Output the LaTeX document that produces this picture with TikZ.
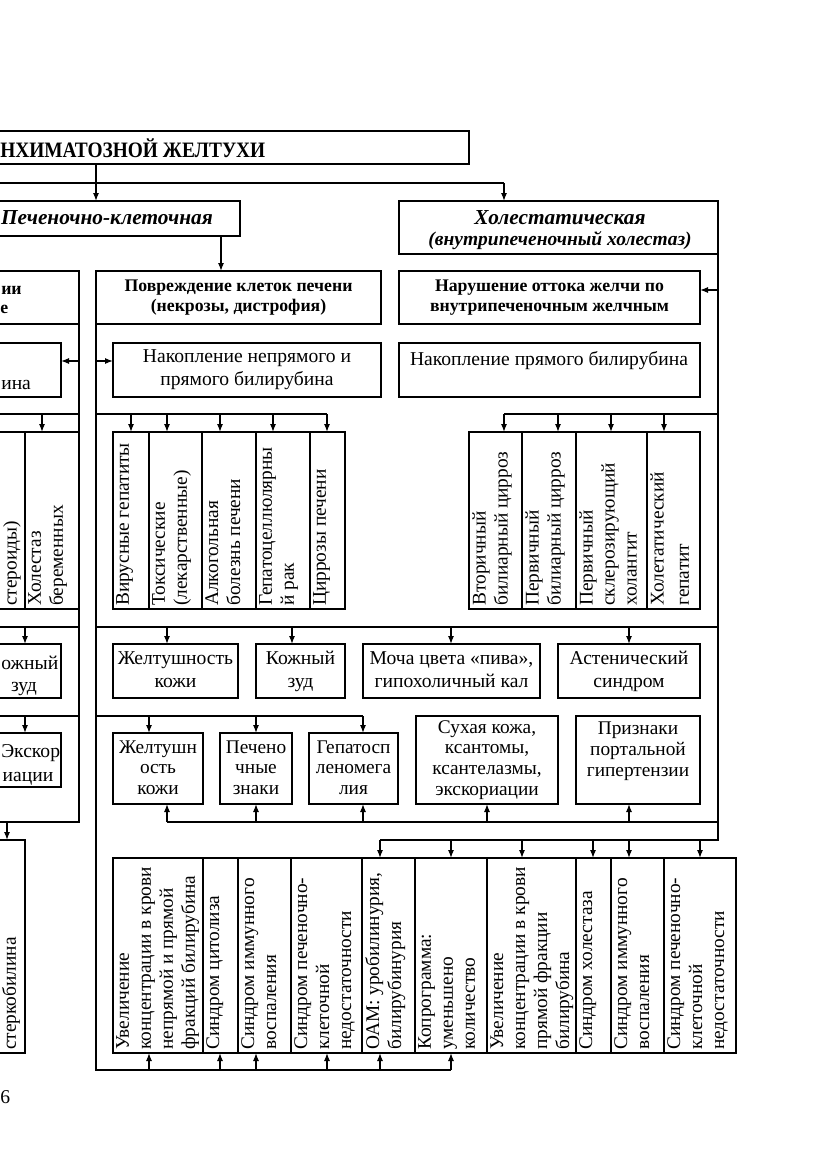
\documentclass[tikz,border=0pt]{standalone}
\usepackage{fontspec}
\usepackage{graphicx}
\setmainfont{Liberation Serif}
\usetikzlibrary{arrows.meta}
\newcommand\tst{\rule[-0.1\baselineskip]{0pt}{0.9\baselineskip}}
\tikzset{
  box/.style={draw, line width=1.1pt, inner sep=0pt, outer sep=0pt, anchor=north west},
  ln/.style={line width=1.1pt},
  arr/.style={line width=1.1pt, -{Latex[length=6pt,width=4.6pt]}},
  txt/.style={inner sep=0pt, align=center, font=\fontsize{14.7}{17.3}\selectfont,
    execute at begin node=\tst, execute at end node=\tst},
  txtm/.style={inner sep=0pt, align=center, font=\fontsize{14.5}{15.6}\selectfont,
    execute at begin node=\tst, execute at end node=\tst},
  bld/.style={inner sep=0pt, align=center, font=\fontsize{13.3}{15.2}\selectfont\bfseries,
    execute at begin node=\tst, execute at end node=\tst},
  plain/.style={execute at begin node={}, execute at end node={}},
  hd/.style={inner sep=0pt, align=center, font=\fontsize{16}{18}\selectfont\bfseries\itshape},
  subhd/.style={inner sep=0pt, align=center, font=\fontsize{14.6}{16}\selectfont\bfseries\itshape},
  ttl/.style={inner sep=0pt, font=\fontsize{16.5}{18}\selectfont\bfseries},
  vtxt/.style={rotate=90, anchor=north west, align=left, inner sep=0pt, font=\fontsize{14.5}{16.5}\selectfont},
}
\newcommand\mkbox[7][]{\node[box, minimum width={(#5-(#3))*0.75pt}, minimum height={(#6-(#4))*0.75pt}, #1] (#2) at (#3,#4) {#7};}
\newcommand\vt[3][]{\node[vtxt,#1] (#2t) at ([xshift=2.3pt,yshift=2.3pt]#2.south west) {#3};}
\begin{document}
\begin{tikzpicture}[x=0.75pt,y=-0.75pt]
\useasboundingbox (0,0) rectangle (831,1174);
\fill[white] (0,0) rectangle (831,1174);
% helper coordinates
\foreach \x in {7,25,42,79,96,131,149,167,220,221,256,273,292,327,363,380,451,487,504,522,558,593,611,629,664,700,718} \coordinate (X\x) at (\x,0);
\coordinate (Lx) at (-12,0);
\foreach \y in {183,290,361,414,627,716,822,840,1070} \coordinate (Y\y) at (0,\y);

% ---- top level
\mkbox{title}{-12}{131}{469}{164}{}
\node[ttl, anchor=west] (titletext) at (0,148) {\scalebox{0.88}[1]{НХИМАТОЗНОЙ ЖЕЛТУХИ}};
\mkbox{pk}{-12}{201}{240}{236}{}
\node[hd, anchor=east] (pktext) at (213,218) {Печеночно-клеточная};
\mkbox{xol}{399}{201}{718}{254}{}
\node[hd] (xoltext) at (560,218) {Холестатическая};
\node[subhd] (xolsub) at (560,241) {(внутрипеченочный холестаз)};

% ---- second level
\mkbox{ltop}{-12}{271}{79}{324}{}
\node[bld, plain, anchor=west] (ltop1) at (1,287) {ии};
\node[bld, plain, anchor=west] (ltop2) at (0,306) {е};
\mkbox[bld]{povr}{96}{271}{381}{324}{Повреждение клеток печени\\(некрозы, дистрофия)}
\mkbox[bld]{nar}{399}{271}{700}{324}{Нарушение оттока желчи по\\внутрипеченочным желчным}

% ---- accumulation
\mkbox{lnak}{-12}{343}{61}{397}{}
\node[txt, plain, anchor=west] (lnakt) at (1,381) {ина};
\mkbox[txt]{nak1}{113}{343}{381}{397}{Накопление непрямого и\\прямого билирубина}
\mkbox{nak2}{399}{343}{700}{397}{}
\node[txt, plain] (nak2t) at (549,358) {Накопление прямого билирубина};

% ---- cause columns
\mkbox{lcA}{-12}{432}{25}{609}{}
\node[vtxt, anchor=west] (lcAt) at (12,606) {стероиды)};
\mkbox{lcB}{25}{432}{79}{609}{}
\vt{lcB}{Холестаз\\беременных}
\mkbox{m1}{113}{432}{149}{609}{}
\mkbox{m2}{149}{432}{202}{609}{}
\mkbox{m3}{202}{432}{256}{609}{}
\mkbox{m4}{256}{432}{310}{609}{}
\mkbox{m5}{310}{432}{345}{609}{}
\vt{m1}{Вирусные гепатиты}
\vt{m2}{Токсические\\(лекарственные)}
\vt{m3}{Алкогольная\\болезнь печени}
\vt{m4}{Гепатоцеллюлярны\\й рак}
\vt{m5}{Циррозы печени}
\mkbox{r1}{469}{432}{522}{609}{}
\mkbox{r2}{522}{432}{576}{609}{}
\mkbox{r3}{576}{432}{647}{609}{}
\mkbox{r4}{647}{432}{700}{609}{}
\vt{r1}{Вторичный\\билиарный цирроз}
\vt{r2}{Первичный\\билиарный цирроз}
\vt{r3}{Первичный\\склерозирующий\\холангит}
\vt[font=\fontsize{14.5}{19}\selectfont]{r4}{Холетатический\\гепатит}

% ---- symptoms row 1
\mkbox{lzud}{-12}{644}{61}{698}{}
\node[txt, plain, anchor=west] (lzud1) at (1,661) {ожный};
\node[txt, plain] (lzud2) at (24,684) {зуд};
\mkbox[txt]{zhk}{113}{644}{238}{698}{Желтушность\\кожи}
\mkbox[txt]{kzud}{256}{644}{345}{698}{Кожный\\зуд}
\mkbox[txt]{mocha}{363}{644}{540}{698}{Моча цвета «пива»,\\гипохоличный кал}
\mkbox[txt]{ast}{558}{644}{700}{698}{Астенический\\синдром}

% ---- symptoms row 2
\mkbox{leks}{-12}{733}{61}{787}{}
\node[txt, plain, anchor=west] (leks1) at (1,750) {Экскор};
\node[txt, plain] (leks2) at (28,774) {иации};
\mkbox[txtm]{zh2}{113}{733}{203}{804}{Желтушн\\ость\\кожи}
\mkbox[txtm]{pech}{220}{733}{292}{804}{Печено\\чные\\знаки}
\mkbox[txtm]{gep}{309}{733}{398}{804}{Гепатосп\\леномега\\лия}
\mkbox[txtm]{such}{416}{716}{558}{804}{Сухая кожа,\\ксантомы,\\ксантелазмы,\\экскориации}
\mkbox{priz}{576}{716}{700}{804}{}
\node[txtm, plain] (prizt) at (638,751) {Признаки\\портальной\\гипертензии};

% ---- left bottom
\mkbox{lst}{-12}{840}{25}{1053}{}
\node[vtxt, anchor=west] (lstt) at (11,1050) {стеркобилина};

% ---- lab columns
\mkbox{b1}{113}{858}{203}{1053}{}
\mkbox{b2}{203}{858}{238}{1053}{}
\mkbox{b3}{238}{858}{291}{1053}{}
\mkbox{b4}{291}{858}{362}{1053}{}
\mkbox{b5}{362}{858}{415}{1053}{}
\mkbox{b6}{415}{858}{487}{1053}{}
\mkbox{b7}{487}{858}{576}{1053}{}
\mkbox{b8}{576}{858}{611}{1053}{}
\mkbox{b9}{611}{858}{664}{1053}{}
\mkbox{b10}{664}{858}{736}{1053}{}
\vt{b1}{Увеличение\\концентрации в крови\\непрямой и прямой\\фракций билирубина}
\vt{b2}{Синдром цитолиза}
\vt{b3}{Синдром иммунного\\воспаления}
\vt{b4}{Синдром печеночно-\\клеточной\\недостаточности}
\vt{b5}{ОАМ: уробилинурия,\\билирубинурия}
\vt{b6}{Копрограмма:\\уменьшено\\количество}
\vt{b7}{Увеличение\\концентрации в крови\\прямой фракции\\билирубина}
\vt{b8}{Синдром холестаза}
\vt{b9}{Синдром иммунного\\воспаления}
\vt{b10}{Синдром печеночно-\\клеточной\\недостаточности}

\node[txt, plain, anchor=west] (page) at (0,1095) {6};

% ================= connectors
\draw[ln] (Y183 -| Lx) -- (Y183 -| X504);
\draw[arr] (Y183 -| X504) -- (xol.north -| X504);
\draw[arr] (title.south -| X96) -- (pk.north -| X96);
\draw[arr] (pk.south -| X221) -- (povr.north -| X221);
% right trunk
\draw[ln] (xol.south east) -- (Y840 -| X718) -- (Y840 -| X380);
\draw[arr] (Y290 -| X718) -- (nar.east |- Y290);
% middle trunk
\draw[ln] (povr.south west) -- (Y1070 -| X96) -- (Y1070 -| X451);
\draw[arr] (Y361 -| X96) -- (nak1.west |- Y361);
% left trunk
\draw[ln] (ltop.south east) -- (Y822 -| X79) -- (Y822 -| Lx);
\draw[arr] (Y361 -| X79) -- (lnak.east |- Y361);
% level 414
\draw[ln] (Y414 -| Lx) -- (Y414 -| X79);
\draw[arr] (Y414 -| X42) -- (lcB.north -| X42);
\draw[ln] (Y414 -| X96) -- (Y414 -| X327);
\draw[arr] (Y414 -| X131) -- (m1.north -| X131);
\draw[arr] (Y414 -| X167) -- (m2.north -| X167);
\draw[arr] (Y414 -| X220) -- (m3.north -| X220);
\draw[arr] (Y414 -| X273) -- (m4.north -| X273);
\draw[arr] (Y414 -| X327) -- (m5.north -| X327);
\draw[ln] (Y414 -| X504) -- (Y414 -| X718);
\draw[arr] (Y414 -| X504) -- (r1.north -| X504);
\draw[arr] (Y414 -| X558) -- (r2.north -| X558);
\draw[arr] (Y414 -| X611) -- (r3.north -| X611);
\draw[arr] (Y414 -| X664) -- (r4.north -| X664);
% level 627
\draw[ln] (Y627 -| Lx) -- (Y627 -| X79);
\draw[arr] (Y627 -| X25) -- (lzud.north -| X25);
\draw[ln] (Y627 -| X96) -- (Y627 -| X718);
\draw[arr] (Y627 -| X167) -- (zhk.north -| X167);
\draw[arr] (Y627 -| X292) -- (kzud.north -| X292);
\draw[arr] (Y627 -| X451) -- (mocha.north -| X451);
\draw[arr] (Y627 -| X629) -- (ast.north -| X629);
% level 716
\draw[ln] (Y716 -| Lx) -- (Y716 -| X79);
\draw[arr] (Y716 -| X25) -- (leks.north -| X25);
\draw[ln] (Y716 -| X96) -- (Y716 -| X363);
\draw[arr] (Y716 -| X149) -- (zh2.north -| X149);
\draw[arr] (Y716 -| X256) -- (pech.north -| X256);
\draw[arr] (Y716 -| X363) -- (gep.north -| X363);
% level 822
\draw[arr] (Y822 -| X7) -- (lst.north -| X7);
\draw[ln] (Y822 -| X167) -- (Y822 -| X718);
\draw[arr] (Y822 -| X167) -- (zh2.south -| X167);
\draw[arr] (Y822 -| X256) -- (pech.south -| X256);
\draw[arr] (Y822 -| X363) -- (gep.south -| X363);
\draw[arr] (Y822 -| X487) -- (such.south -| X487);
\draw[arr] (Y822 -| X629) -- (priz.south -| X629);
% level 840
\draw[arr] (Y840 -| X380) -- (b5.north -| X380);
\draw[arr] (Y840 -| X451) -- (b6.north -| X451);
\draw[arr] (Y840 -| X522) -- (b7.north -| X522);
\draw[arr] (Y840 -| X593) -- (b8.north -| X593);
\draw[arr] (Y840 -| X629) -- (b9.north -| X629);
\draw[arr] (Y840 -| X700) -- (b10.north -| X700);
% level 1070
\draw[arr] (Y1070 -| X149) -- (b1.south -| X149);
\draw[arr] (Y1070 -| X220) -- (b2.south -| X220);
\draw[arr] (Y1070 -| X256) -- (b3.south -| X256);
\draw[arr] (Y1070 -| X327) -- (b4.south -| X327);
\draw[arr] (Y1070 -| X380) -- (b5.south -| X380);
\draw[arr] (Y1070 -| X451) -- (b6.south -| X451);
\end{tikzpicture}
\end{document}
